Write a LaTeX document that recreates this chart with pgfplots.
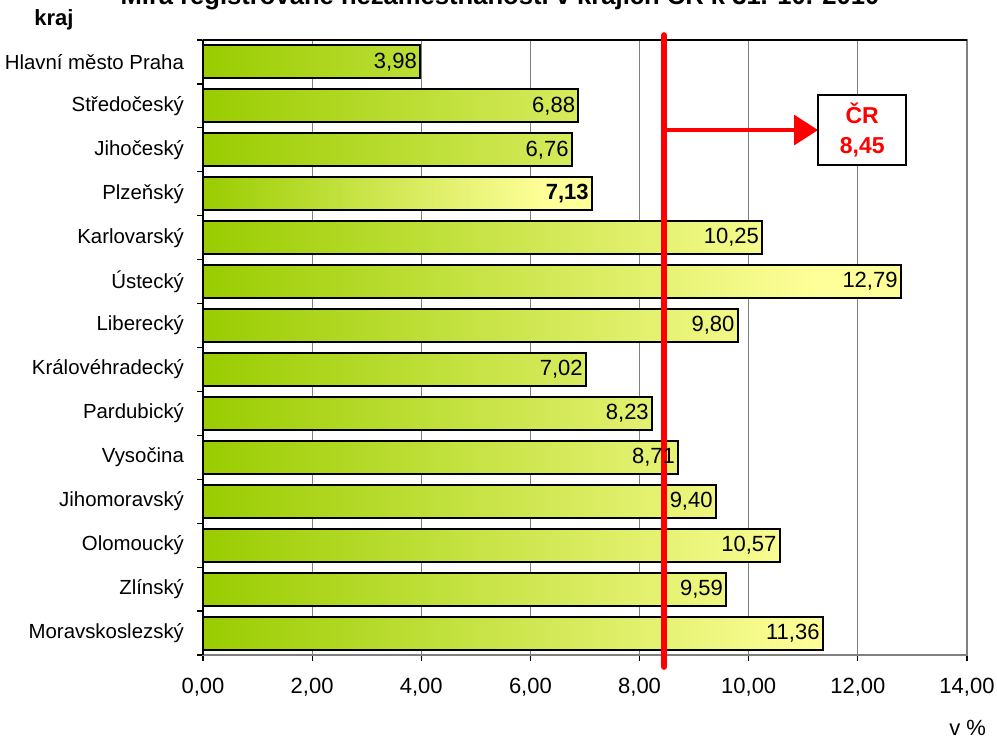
\documentclass[border=0pt]{standalone}
\usepackage{fontspec}
\setmainfont{Liberation Sans}
\usepackage{pgfplots}
\pgfplotsset{compat=1.18}
\usetikzlibrary{arrows.meta}
\definecolor{barleft}{RGB}{153,204,0}
\definecolor{barright}{RGB}{255,255,153}
\definecolor{gridgray}{RGB}{128,128,128}
\pgfdeclarehorizontalshading{bargrad}{100bp}{color(0bp)=(barleft); color(25bp)=(barleft); color(69bp)=(barright); color(100bp)=(barright)}
\begin{document}
\begin{tikzpicture}
\begin{axis}[
  scale only axis,
  width=382pt, height=307.5pt,
  xmin=0, xmax=14,
  ymin=-0.5, ymax=13.5,
  y dir=reverse,
  xtick={0,2,...,14},
  xticklabel style={/pgf/number format/fixed,/pgf/number format/fixed zerofill,/pgf/number format/precision=2,/pgf/number format/use comma,/pgf/number format/assume math mode=true, yshift=-5pt, font=\fontsize{11}{13}\selectfont},
  xtick pos=bottom,
  ytick={0,...,13},
  yticklabels={Hlavní město Praha,Středočeský,Jihočeský,Plzeňský,Karlovarský,Ústecký,Liberecký,Královéhradecký,Pardubický,Vysočina,Jihomoravský,Olomoucký,Zlínský,Moravskoslezský},
  minor ytick={-0.5,0.5,...,13.5},
  ytick pos=left,
  tick align=outside,
  major tick length=3pt,
  minor tick length=3pt,
  major y tick style={draw=none},
  minor y tick style={black, line width=0.6pt},
  major x tick style={black, line width=0.6pt},
  xmajorgrids,
  major grid style={gridgray, line width=0.6pt},
  axis line style={gridgray, line width=0.6pt},
  yticklabel style={xshift=-3pt, font=\fontsize{10.2}{12}\selectfont},
  xbar, bar width=0.75, bar shift=0pt,
  clip=false,
]
\addplot[xbar, bar shift=0pt, draw=black, line width=1pt, shading=bargrad,
  nodes near coords={\pgfmathprintnumber[fixed,fixed zerofill,precision=2,use comma,assume math mode=true]{\pgfplotspointmeta}},
  point meta=x,
  every node near coord/.append style={anchor=east, font=\fontsize{11}{13}\selectfont, inner sep=1.2pt, text=black}]
coordinates {(3.98,0) (6.88,1) (6.76,2) (10.25,4) (12.79,5) (9.80,6) (7.02,7) (8.23,8) (8.71,9) (9.40,10) (10.57,11) (9.59,12) (11.36,13)};
\addplot[xbar, bar shift=0pt, draw=black, line width=1pt, shading=bargrad,
  nodes near coords={\pgfmathprintnumber[fixed,fixed zerofill,precision=2,use comma,assume math mode=true]{\pgfplotspointmeta}},
  point meta=x,
  every node near coord/.append style={anchor=east, font=\fontsize{11}{13}\selectfont\bfseries, inner sep=1.2pt, text=black}]
coordinates {(7.13,3)};
\draw[black, line width=0.8pt] (rel axis cs:0,0) -- (rel axis cs:0,1);
\draw[black, line width=0.8pt] (rel axis cs:0,1) -- (rel axis cs:1,1);
\addplot[sharp plot, red, line width=3pt, line cap=round, mark=none] coordinates {(8.45,-0.61) (8.45,13.77)};
\addplot[sharp plot, red, line width=1.6pt, mark=none, -{Triangle[length=12pt,width=15pt]}] coordinates {(8.45,1.55) (11.27,1.55)};
\node[draw=black, line width=1pt, fill=white, minimum width=44pt, minimum height=35pt, align=center, text=red, font=\fontsize{11.5}{15}\selectfont\bfseries] at (axis cs:12.08,1.55) {ČR\\8,45};
\end{axis}
\node[anchor=base, font=\fontsize{12.8}{15}\selectfont\bfseries] at (148.5pt,325pt) {Míra registrované nezaměstnanosti v krajích ČR k 31. 10. 2010};
\node[font=\fontsize{11}{13}\selectfont\bfseries] at (-74.5pt,317.5pt) {kraj};
\node[anchor=east, font=\fontsize{11}{13}\selectfont] at (395pt,-36.5pt) {v \%};
\pgfresetboundingbox
\path[use as bounding box] (-101.5pt,-42.5pt) rectangle (397pt,327.5pt);
\end{tikzpicture}
\end{document}
